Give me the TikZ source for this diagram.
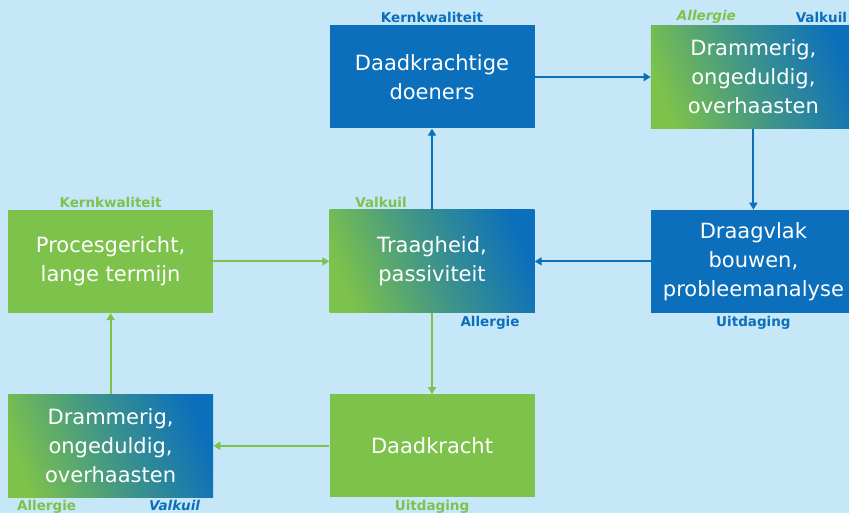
\documentclass[tikz,border=0pt]{standalone}
\usepackage{fontspec}
\setmainfont{DejaVu Sans}
\usetikzlibrary{positioning,arrows.meta}
\definecolor{kblue}{HTML}{0B6FBC}
\definecolor{kgreen}{HTML}{7DC24B}
\definecolor{kback}{HTML}{C6E7F8}
\pgfdeclarehorizontalshading{greenblue}{100bp}{color(0bp)=(kgreen); color(24bp)=(kgreen); color(50bp)=(kgreen!45!kblue); color(76bp)=(kblue); color(100bp)=(kblue)}
\begin{document}
\begin{tikzpicture}[x=1pt, y=1pt, node distance=81pt and 116pt]

        \tikzstyle{bluebox} = [rectangle, minimum width=205pt, minimum height=103pt, text centered, align=center, text=white, font=\fontsize{21}{29}\selectfont, fill=kblue]
        \tikzstyle{greenbox} = [bluebox, fill=kgreen]
        \tikzstyle{mixbox} = [bluebox, shading=greenblue, shading angle=22]
        \tikzstyle{lab} = [font=\fontsize{13.5}{15}\selectfont\bfseries, inner sep=1pt]
        \tikzstyle{bluearrow} = [line width=2pt, kblue, -{Triangle[length=7pt,width=8pt]}]
        \tikzstyle{greenarrow} = [bluearrow, kgreen]

        \fill [kback] (0,0) rectangle (849,-513);
        \clip (0,0) rectangle (849,-513);

        \node (doeners) [bluebox] at (432,-77) {Daadkrachtige\\doeners};
        \node (drammer) [mixbox, right = of doeners] {Drammerig,\\ongeduldig,\\overhaasten};
        \node (traag) [mixbox, below = of doeners] {Traagheid,\\passiviteit};
        \node (draagvlak) [bluebox, below = of drammer] {Draagvlak\\bouwen,\\probleemanalyse};
        \node (proces) [greenbox, left = of traag] {Procesgericht,\\lange termijn};
        \node (kracht) [greenbox, below = of traag] {Daadkracht};
        \node (drammertwo) [mixbox, below = of proces] {Drammerig,\\ongeduldig,\\overhaasten};

        % Labels
        \node [lab, text=kblue, above = 1pt of doeners.north] {Kernkwaliteit};
        \node [lab, text=kblue, above = 1pt of drammer.north, xshift=68pt] {Valkuil};
        \node [lab, text=kgreen, above = 1pt of drammer.north, xshift=-47pt] {\itshape Allergie};
        \node [lab, text=kblue, below = 2pt of draagvlak.south] {Uitdaging};
        \node [lab, text=kgreen, above = 1pt of traag.north, xshift=-51pt] {Valkuil};
        \node [lab, text=kblue, below = 2pt of traag.south, xshift=58pt] {Allergie};
        \node [lab, text=kgreen, above = 1pt of proces.north] {Kernkwaliteit};
        \node [lab, text=kgreen, below = 2pt of kracht.south] {Uitdaging};
        \node [lab, text=kgreen, below = 2pt of drammertwo.south, xshift=-64pt] {Allergie};
        \node [lab, text=kblue, below = 2pt of drammertwo.south, xshift=64pt] {\itshape Valkuil};

        % Arrows
        \draw [bluearrow] (traag) -- (doeners);
        \draw [bluearrow] (doeners) -- (drammer);
        \draw [bluearrow] (drammer) -- (draagvlak);
        \draw [bluearrow] (draagvlak) -- (traag);
        \draw [greenarrow] (proces) -- (traag);
        \draw [greenarrow] (traag) -- (kracht);
        \draw [greenarrow] (kracht) -- (drammertwo);
        \draw [greenarrow] (drammertwo) -- (proces);

    \end{tikzpicture}
\end{document}
